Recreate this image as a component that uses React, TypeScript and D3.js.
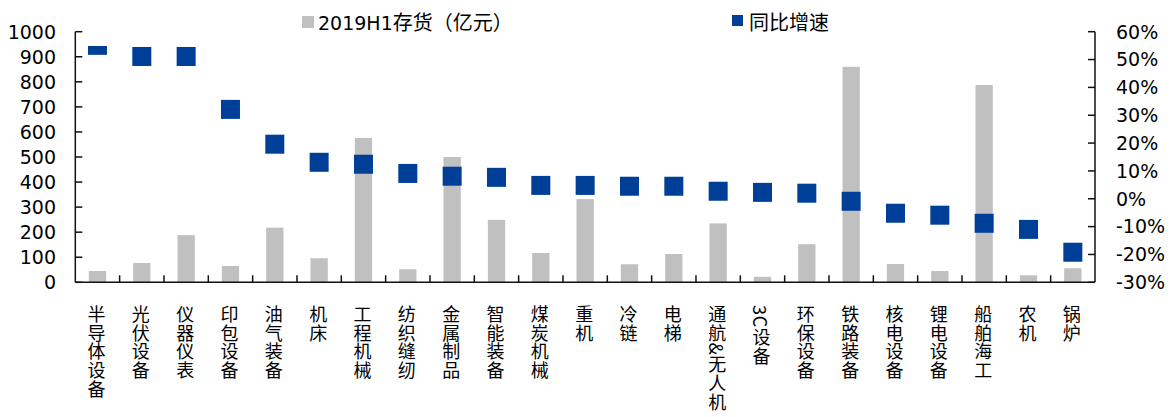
import React from "react";
import * as d3 from "d3";

const categories = [
  "半导体设备", "光伏设备", "仪器仪表", "印包设备", "油气装备", "机床", "工程机械",
  "纺织缝纫", "金属制品", "智能装备", "煤炭机械", "重机", "冷链", "电梯",
  "通航&无人机", "3C设备", "环保设备", "铁路装备", "核电设备", "锂电设备",
  "船舶海工", "农机", "锅炉",
];
const inventory = [45, 77, 188, 65, 218, 96, 576, 52, 500, 249, 117, 332, 72, 113, 235, 22, 152, 860, 73, 45, 787, 28, 56];
const growth = [55.1, 51.1, 51.1, 32.1, 19.6, 13.1, 12.4, 9.1, 8.1, 7.7, 4.8, 4.8, 4.5, 4.5, 2.7, 2.3, 2.0, -0.9, -5.2, -5.9, -8.8, -11.0, -19.2];
const leftTicks = [0, 100, 200, 300, 400, 500, 600, 700, 800, 900, 1000];
const rightTicks = [-30, -20, -10, 0, 10, 20, 30, 40, 50, 60];
const legendBarLatin = "2019H1";
const legendBarCjk = "存货（亿元）";
const legendDot = "同比增速";

const W = 1174;
const H = 417;
const left = 75.3;
const right = 1095;
const top = 31.7;
const bottom = 282.3;
const BAR = "#c0c0c0";
const DOT = "#003f98";
const AXIS = "#111";
const NUMFONT = "'DejaVu Sans', Verdana, sans-serif";
const CJKFONT = "'Noto Sans CJK SC', sans-serif";

export default function App() {
  const x = d3.scaleBand<string>().domain(categories).range([left, right]).paddingInner(0).paddingOuter(0);
  const yL = d3.scaleLinear().domain([0, 1000]).range([bottom, top]);
  const yR = d3.scaleLinear().domain([-30, 60]).range([bottom, top]);
  const bw = x.bandwidth();
  const barW = bw * 0.39;
  const mk = 19;
  const boundaries = d3.range(1, categories.length).map((i) => left + i * bw);

  return (
    <svg width={W} height={H} style={{ position: "absolute", left: 0, top: 0, background: "#fff" }}>
      <defs>
        <clipPath id="plotclip">
          <rect x={left} y={top + 14.3} width={right - left} height={bottom - top} />
        </clipPath>
      </defs>
      {categories.map((c, i) => (
        <rect key={"b" + c} x={(x(c) as number) + bw / 2 - barW / 2} y={yL(inventory[i])} width={barW} height={bottom - yL(inventory[i])} fill={BAR} />
      ))}
      <line x1={left} x2={left} y1={top} y2={bottom} stroke={AXIS} strokeWidth={1.5} />
      <line x1={right} x2={right} y1={top} y2={bottom} stroke={AXIS} strokeWidth={1.5} />
      <line x1={left} x2={right} y1={bottom} y2={bottom} stroke={AXIS} strokeWidth={1.5} />
      {leftTicks.map((t) => (
        <g key={"l" + t}>
          <line x1={left} x2={left + 7} y1={yL(t)} y2={yL(t)} stroke={AXIS} strokeWidth={1.5} />
          <text x={56} y={yL(t)} dy="0.36em" textAnchor="end" fontFamily={NUMFONT} fontSize={19} fill="#000">{t}</text>
        </g>
      ))}
      {rightTicks.map((t) => (
        <g key={"r" + t}>
          <line x1={right - 7} x2={right} y1={yR(t)} y2={yR(t)} stroke={AXIS} strokeWidth={1.5} />
          <text x={1116} y={yR(t)} dy="0.36em" textAnchor="start" fontFamily={NUMFONT} fontSize={19} fill="#000">{t + "%"}</text>
        </g>
      ))}
      {boundaries.map((bx, i) => (
        <line key={"t" + i} x1={bx} x2={bx} y1={bottom} y2={bottom - 7} stroke={AXIS} strokeWidth={1.5} />
      ))}
      <g clipPath="url(#plotclip)">
        {categories.map((c, i) => (
          <rect key={"m" + c} x={(x(c) as number) + bw / 2 - mk / 2} y={yR(growth[i]) - mk / 2} width={mk} height={mk} fill={DOT} />
        ))}
      </g>
      {categories.map((c) => (
        <text
          key={"c" + c}
          x={(x(c) as number) + bw / 2 - 1}
          y={305}
          style={{ writingMode: "vertical-rl" as any }}
          fontFamily={CJKFONT}
          fontSize={18}
          letterSpacing={0.8}
          fill="#000"
        >
          {c}
        </text>
      ))}
      <rect x={302} y={16} width={12} height={12} fill={BAR} />
      <text x={318} y={30} fill="#000">
        <tspan fontFamily={NUMFONT} fontSize={19}>{legendBarLatin}</tspan>
        <tspan fontFamily={CJKFONT} fontSize={20}>{legendBarCjk}</tspan>
      </text>
      <rect x={732} y={15} width={11} height={11} fill={DOT} />
      <text x={749} y={30} fontFamily={CJKFONT} fontSize={20} fill="#000">{legendDot}</text>
    </svg>
  );
}
